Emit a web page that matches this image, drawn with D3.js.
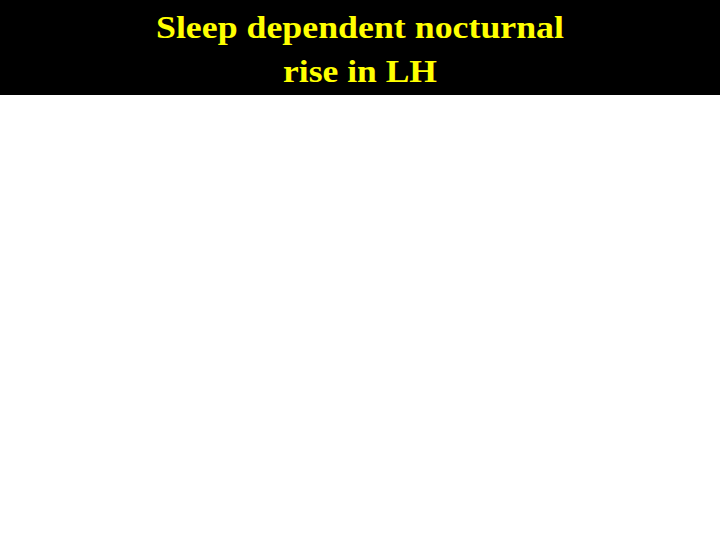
<!DOCTYPE html>
<html>
<head>
<meta charset="utf-8">
<script src="https://cdn.jsdelivr.net/npm/d3@7"></script>
<style>
  html, body { margin: 0; padding: 0; background: #ffffff; }
</style>
</head>
<body>
<svg id="chart" width="720" height="540"></svg>
<script>
// title lines of the slide
const titleLines = ['Sleep dependent nocturnal', 'rise in LH'];
// the plot area of the slide is empty: no categories or values are shown
const categories = [];
const values = [];

const width = 720;
const height = 540;
const bandHeight = 95;
// rendered widths of the title lines in the reference
const lineWidths = [408, 154];

const svg = d3.select('#chart');

svg.append('rect')
    .attr('x', 0)
    .attr('y', 0)
    .attr('width', width)
    .attr('height', height)
    .attr('fill', '#ffffff');

// black header band
svg.append('rect')
    .attr('x', 0)
    .attr('y', 0)
    .attr('width', width)
    .attr('height', bandHeight)
    .attr('fill', '#000000');

const lineY = d3.scalePoint()
    .domain(titleLines)
    .range([38, 82]);

svg.append('g')
    .selectAll('text')
    .data(titleLines)
    .join('text')
    .attr('x', width / 2)
    .attr('y', d => lineY(d))
    .attr('text-anchor', 'middle')
    .attr('textLength', (d, i) => lineWidths[i])
    .attr('lengthAdjust', 'spacingAndGlyphs')
    .attr('fill', '#ffff00')
    .style('font-family', '"Liberation Serif", "Times New Roman", serif')
    .style('font-weight', 'bold')
    .style('font-size', '31px')
    .text(d => d);

// body (empty in the reference)
const x = d3.scaleBand().domain(categories).range([60, 680]).padding(0.3);
const y = d3.scaleLinear().domain([0, d3.max(values) || 1]).range([500, 130]);
svg.append('g')
    .selectAll('rect')
    .data(values)
    .join('rect')
    .attr('x', (d, i) => x(categories[i]))
    .attr('y', d => y(d))
    .attr('width', x.bandwidth())
    .attr('height', d => y(0) - y(d));
</script>
</body>
</html>
